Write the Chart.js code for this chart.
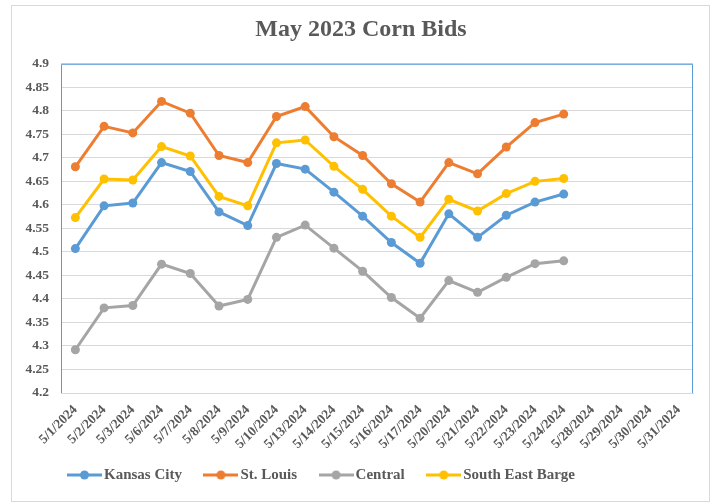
<!DOCTYPE html>
<html>
<head>
<meta charset="utf-8">
<script src="https://cdn.jsdelivr.net/npm/chart.js@4"></script>
<style>
  body { margin: 0; background: #fff; }
  canvas { display: block; }
</style>
</head>
<body>
<canvas id="cornChart" width="714" height="504"></canvas>
<script>
// --- datos ---
const fechas = ['5/1/2024', '5/2/2024', '5/3/2024', '5/6/2024', '5/7/2024', '5/8/2024', '5/9/2024',
    '5/10/2024', '5/13/2024', '5/14/2024', '5/15/2024', '5/16/2024', '5/17/2024', '5/20/2024',
    '5/21/2024', '5/22/2024', '5/23/2024', '5/24/2024', '5/28/2024', '5/29/2024', '5/30/2024', '5/31/2024'];

const kansasCity = [4.507, 4.598, 4.604, 4.690, 4.671, 4.585, 4.556, 4.688, 4.676, 4.627, 4.576, 4.520, 4.476, 4.581, 4.531, 4.578, 4.606, 4.623];
const stLouis = [4.681, 4.767, 4.753, 4.820, 4.795, 4.705, 4.690, 4.788, 4.809, 4.745, 4.705, 4.645, 4.606, 4.690, 4.666, 4.723, 4.775, 4.793];
const central = [4.292, 4.381, 4.386, 4.474, 4.454, 4.385, 4.399, 4.531, 4.557, 4.508, 4.459, 4.403, 4.359, 4.439, 4.414, 4.446, 4.475, 4.481];
const southEastBarge = [4.573, 4.655, 4.653, 4.724, 4.704, 4.618, 4.598, 4.732, 4.738, 4.682, 4.633, 4.576, 4.531, 4.612, 4.587, 4.624, 4.650, 4.656];

const Y_MIN = 4.2;
const Y_MAX = 4.9;
const Y_STEP = 0.05;

// --- estilo ---
const GRIS_TEXTO = '#595959';
const GRIS_LINEA = '#d9d9d9';
const AZUL_MARCO = '#5B9BD5';
const FUENTE = "'Liberation Serif', 'Times New Roman', serif";

function serie(label, data, color) {
    return {
        label: label,
        data: data,
        borderColor: color,
        backgroundColor: color,
        borderWidth: 3,
        pointRadius: 4.5,
        pointBorderWidth: 0,
        pointBackgroundColor: color,
        tension: 0
    };
}

// marcador de leyenda: línea con punto
function marcador(color) {
    const c = document.createElement('canvas');
    c.width = 35; c.height = 10;
    const ctx = c.getContext('2d');
    ctx.strokeStyle = color; ctx.lineWidth = 3;
    ctx.beginPath(); ctx.moveTo(0, 5); ctx.lineTo(35, 5); ctx.stroke();
    ctx.fillStyle = color;
    ctx.beginPath(); ctx.arc(17.5, 5, 4.5, 0, Math.PI * 2); ctx.fill();
    return c;
}

const marcoPlugin = {
    id: 'marco',
    beforeDraw(chart) {
        const ctx = chart.ctx;
        ctx.save();
        ctx.strokeStyle = GRIS_LINEA; ctx.lineWidth = 1;
        ctx.strokeRect(11.5, 5.5, 698, 496);
        ctx.restore();
    },
    beforeDatasetsDraw(chart) {
        const {left, top, right, bottom} = chart.chartArea;
        const ctx = chart.ctx;
        ctx.save();
        ctx.strokeStyle = AZUL_MARCO; ctx.lineWidth = 1;
        ctx.beginPath();
        ctx.moveTo(left + 0.5, bottom); ctx.lineTo(left + 0.5, top + 0.5);
        ctx.lineTo(right - 0.5, top + 0.5); ctx.lineTo(right - 0.5, bottom);
        ctx.stroke();
        ctx.restore();
    },
    afterLayout(chart) {
        // título centrado y leyenda desplazada como en el original
        chart.titleBlock.left = 29;
        chart.titleBlock.right = 693;
        chart.legend.left = 45.5;
        chart.legend.top = 440.5;
        chart.legend.bottom = 492.5;
    }
};

const chart = new Chart(document.getElementById('cornChart'), {
    type: 'line',
    data: {
        labels: fechas,
        datasets: [
            serie('Kansas City', kansasCity, '#5B9BD5'),
            serie('St. Louis', stLouis, '#ED7D31'),
            serie('Central', central, '#A5A5A5'),
            serie('South East Barge', southEastBarge, '#FFC000')
        ]
    },
    options: {
        responsive: false,
        animation: false,
        layout: { padding: { top: 10, left: 14, right: 21, bottom: 4 } },
        plugins: {
            title: {
                display: true,
                text: 'May 2023 Corn Bids',
                color: GRIS_TEXTO,
                font: { family: FUENTE, size: 24, weight: 'bold' },
                padding: { top: 5, bottom: 20 }
            },
            legend: {
                position: 'bottom',
                align: 'start',
                labels: {
                    usePointStyle: true,
                    pointStyleWidth: 24,
                    padding: 27,
                    color: GRIS_TEXTO,
                    font: { family: FUENTE, size: 15, weight: 'bold' },
                    generateLabels(chart) {
                        const items = Chart.defaults.plugins.legend.labels.generateLabels(chart);
                        items.forEach(it => {
                            it.pointStyle = marcador(chart.data.datasets[it.datasetIndex].borderColor);
                        });
                        return items;
                    }
                }
            },
            tooltip: { enabled: false }
        },
        scales: {
            x: {
                offset: true,
                grid: { display: false, drawTicks: false },
                border: { color: GRIS_LINEA },
                ticks: {
                    autoSkip: false,
                    minRotation: 45,
                    maxRotation: 45,
                    padding: 9,
                    color: GRIS_TEXTO,
                    font: { family: FUENTE, size: 13.5, weight: 'bold' }
                },
                afterFit(scale) { scale.height = 55; }
            },
            y: {
                min: Y_MIN,
                max: Y_MAX,
                grid: { color: GRIS_LINEA, drawTicks: false },
                border: { display: false },
                ticks: {
                    stepSize: Y_STEP,
                    padding: 12,
                    color: GRIS_TEXTO,
                    font: { family: FUENTE, size: 13.5, weight: 'bold' },
                    callback: v => String(+v.toFixed(2))
                },
                afterFit(scale) { scale.width = 47; }
            }
        }
    },
    plugins: [marcoPlugin]
});
</script>
</body>
</html>
